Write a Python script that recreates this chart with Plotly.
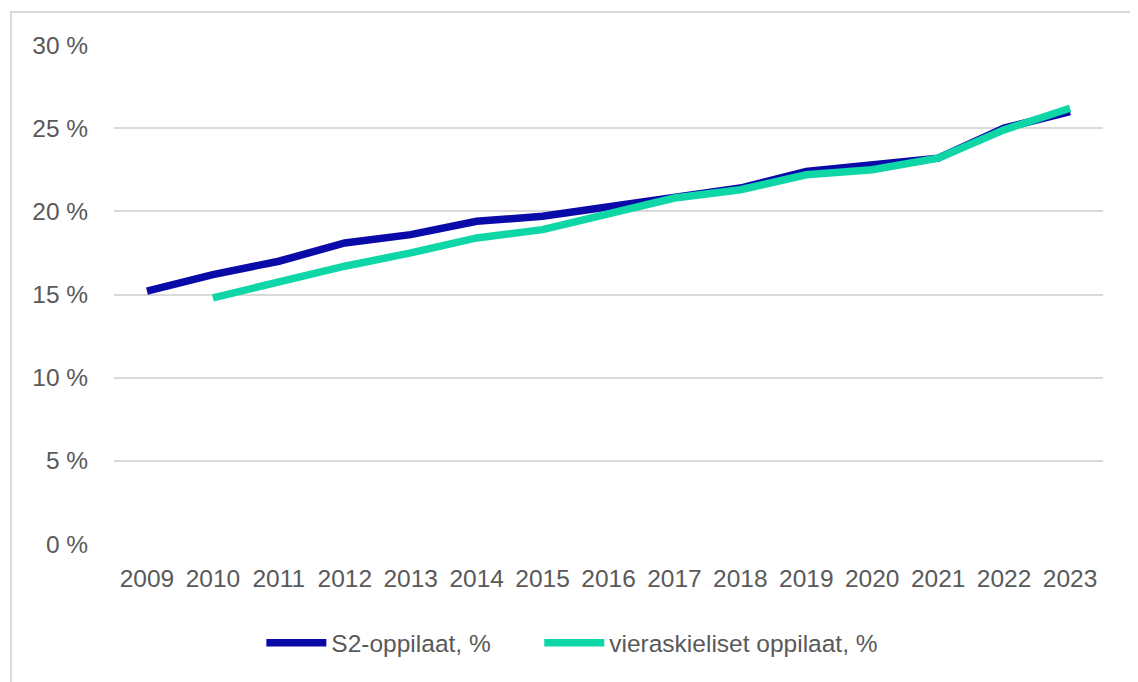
import plotly.graph_objects as go

years = [str(y) for y in range(2009, 2024)]
s2_values = [15.2, 16.2, 17.0, 18.1, 18.6, 19.4, 19.7, 20.3, 20.8, 21.4, 22.4, 22.8, 23.2, 25.0, 26.0]
vieras_values = [None, 14.8, 15.8, 16.7, 17.5, 18.4, 18.9, 19.8, 20.8, 21.3, 22.2, 22.5, 23.2, 24.9, 26.2]
series_names = ["S2-oppilaat, %", "vieraskieliset oppilaat, %"]
series_colors = ["#0A0AA8", "#0FD6A6"]
y_ticks = [0, 5, 10, 15, 20, 25, 30]

FONT = "Liberation Sans"
GRAY = "#595959"
FS = 24.5

fig = go.Figure()
for name, vals, col, lg in zip(series_names, [s2_values, vieras_values], series_colors, ["legend", "legend2"]):
    fig.add_trace(go.Scatter(
        x=years, y=vals, name=name, mode="lines",
        line=dict(color=col, width=7.5),
        connectgaps=False, legend=lg,
    ))

legend_common = dict(
    orientation="h", xanchor="left", y=-0.198, yanchor="middle",
    font=dict(family=FONT, size=FS, color=GRAY),
    itemwidth=60, bgcolor="rgba(0,0,0,0)",
)

fig.update_layout(
    width=1138, height=682,
    margin=dict(l=106, r=43, t=37, b=146),
    paper_bgcolor="white", plot_bgcolor="white",
    font=dict(family=FONT, size=FS, color=GRAY),
    showlegend=True,
    legend=dict(x=0.149, **legend_common),
    legend2=dict(x=0.430, **legend_common),
    xaxis=dict(
        type="category", range=[-0.5, 14.5],
        showgrid=False, zeroline=False, showline=False,
        ticks="outside", ticklen=13, tickcolor="rgba(0,0,0,0)",
        tickfont=dict(family=FONT, size=FS, color=GRAY),
    ),
    yaxis=dict(
        range=[0, 30], tickvals=y_ticks,
        ticktext=[f"{v} %" for v in y_ticks],
        showgrid=True, gridcolor="#D9D9D9", gridwidth=2,
        zeroline=False, showline=False,
        ticks="outside", ticklen=20, tickcolor="rgba(0,0,0,0)",
        tickfont=dict(family=FONT, size=FS, color=GRAY),
    ),
    shapes=[dict(
        type="rect", xref="paper", yref="paper",
        x0=-0.1041, x1=1.0334, y0=-0.2926, y1=1.0661,
        line=dict(color="#D9D9D9", width=2), fillcolor="rgba(0,0,0,0)",
        layer="below",
    )],
)

fig.write_html("out.html")
